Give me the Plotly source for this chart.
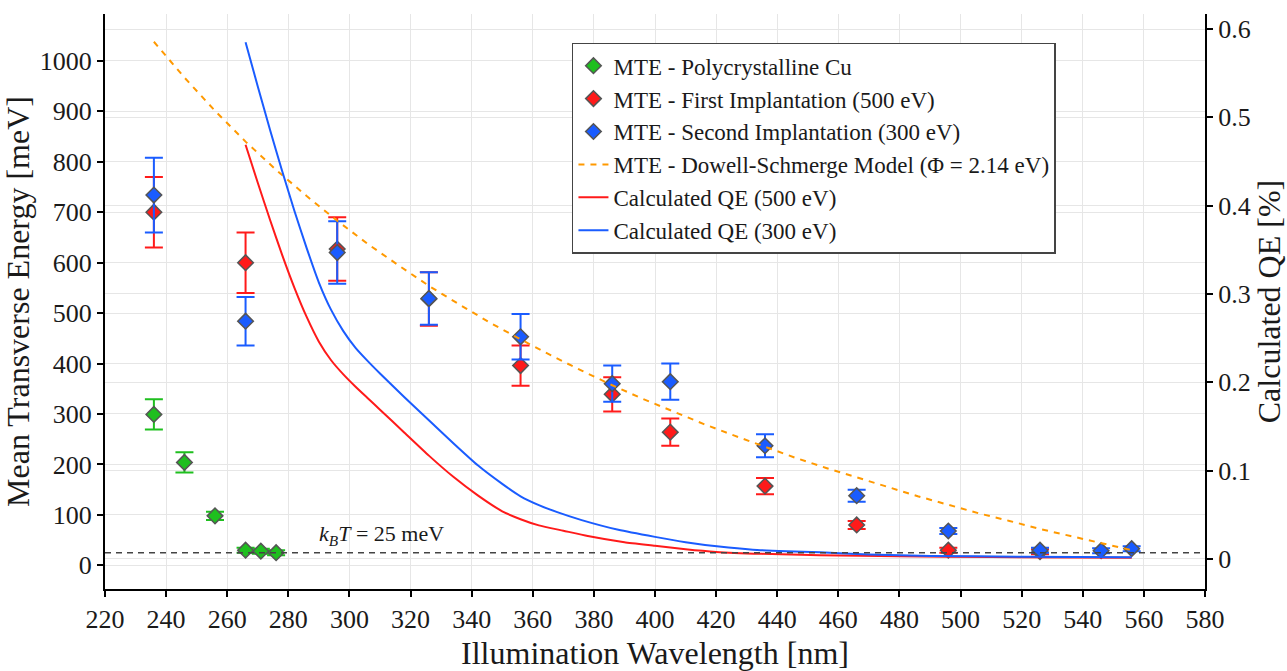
import plotly.graph_objects as go

# ---------------- data ----------------
cu_wl = [236, 246, 256, 266, 271, 276]
cu_mte = [299, 204, 98, 30, 28, 25]
cu_err = [30, 20, 8, 5, 5, 5]

imp1_wl = [236, 266, 296, 326, 356, 386, 405, 436, 466, 496, 526]
imp1_mte = [700, 600, 627, 528, 396, 339, 264, 157, 80, 30, 27]
imp1_err = [70, 60, 63, 53, 40, 34, 27, 16, 8, 5, 5]

imp2_wl = [236, 266, 296, 326, 356, 386, 405, 436, 466, 496, 526, 546, 556]
imp2_mte = [734, 484, 620, 529, 453, 360, 364, 237, 138, 68, 30, 29, 33]
imp2_err = [74, 48, 62, 52, 45, 36, 36, 23, 12, 6, 5, 5, 5]

ds_wl = [236, 246, 256, 266, 276, 286, 296, 306, 316, 326, 336, 346, 356, 366,
         376, 386, 396, 406, 416, 426, 436, 446, 456, 466, 476, 486, 496, 506,
         516, 526, 536, 546, 556]
ds_mte = [1038, 967, 901, 840, 784, 732, 683, 637, 595, 554, 517, 481, 448, 416,
          386, 357, 330, 305, 280, 257, 235, 213, 193, 174, 155, 137, 120, 103,
          88, 72, 58, 44, 30]

qe1_wl = [266, 270, 274, 278, 282, 286, 290, 294, 298, 302, 306, 310, 318,
          326, 334, 342, 350, 356, 362, 370, 378, 390, 400, 410, 420, 435,
          454, 480, 510, 556]
qe1 = [0.469, 0.426, 0.384, 0.344, 0.307, 0.274, 0.246, 0.225, 0.209, 0.195,
       0.182, 0.169, 0.143, 0.117, 0.093, 0.072, 0.054, 0.045, 0.038, 0.032,
       0.026, 0.019, 0.015, 0.011, 0.008, 0.0058, 0.0042, 0.003, 0.0022,
       0.0015]

qe2_wl = [266, 270, 274, 278, 282, 286, 290, 294, 298, 302, 306, 310, 318,
          326, 334, 342, 350, 356, 362, 368, 376, 388, 400, 410, 421, 432,
          443, 454, 470, 490, 520, 556]
qe2 = [0.585, 0.535, 0.486, 0.439, 0.394, 0.352, 0.313, 0.282, 0.258, 0.239,
       0.224, 0.210, 0.183, 0.157, 0.131, 0.106, 0.085, 0.071, 0.061, 0.053,
       0.044, 0.033, 0.025, 0.019, 0.014, 0.0105, 0.0088, 0.0075, 0.005,
       0.0035, 0.0025, 0.002]

kbt = 25

x_ticks = list(range(220, 581, 20))
y_ticks = list(range(0, 1001, 100))
y2_ticks = [0, 0.1, 0.2, 0.3, 0.4, 0.5, 0.6]
y2_labels = ["0", "0.1", "0.2", "0.3", "0.4", "0.5", "0.6"]

# ---------------- styles ----------------
FONT = "Liberation Serif"
TXT = "#1a1a1a"
GREEN = "#1fbf1f"
RED = "#ff1a1a"
BLUE = "#1a5cff"
ORANGE = "#ff9900"
EDGE = "#555555"

def marker_trace(x, y, e, color, name, grp):
    return go.Scatter(
        x=x, y=y, mode="markers", name=name, legendgroup=grp,
        marker=dict(symbol="diamond", size=12, color=color,
                    line=dict(color=EDGE, width=1.5)),
        error_y=dict(type="data", array=e, visible=True, color=color,
                     thickness=2, width=9),
    )

fig = go.Figure()
fig.add_trace(marker_trace(cu_wl, cu_mte, cu_err, GREEN,
                           "MTE - Polycrystalline Cu", "a"))
fig.add_trace(marker_trace(imp1_wl, imp1_mte, imp1_err, RED,
                           "MTE - First Implantation (500 eV)", "b"))
fig.add_trace(marker_trace(imp2_wl, imp2_mte, imp2_err, BLUE,
                           "MTE - Second Implantation (300 eV)", "c"))
fig.add_trace(go.Scatter(
    x=ds_wl, y=ds_mte, mode="lines", legendgroup="d",
    name="MTE - Dowell-Schmerge Model (Φ = 2.14 eV)",
    line=dict(color=ORANGE, width=2, dash="6px,6px"),
))
fig.add_trace(go.Scatter(
    x=qe1_wl, y=qe1, mode="lines", yaxis="y2", legendgroup="e",
    name="Calculated QE (500 eV)",
    line=dict(color=RED, width=2, shape="spline", smoothing=0.5),
))
fig.add_trace(go.Scatter(
    x=qe2_wl, y=qe2, mode="lines", yaxis="y2", legendgroup="f",
    name="Calculated QE (300 eV)",
    line=dict(color=BLUE, width=2, shape="spline", smoothing=0.5),
))

fig.add_shape(type="line", xref="paper", x0=0, x1=1, yref="y", y0=kbt, y1=kbt,
              line=dict(color="#444444", width=1.5, dash="6px,5px"))

fig.add_annotation(x=310.5, y=60, xref="x", yref="y",
                   text="<i>k<sub>B</sub>T</i> = 25 meV",
                   showarrow=False, font=dict(family=FONT, size=22, color=TXT))

axis_common = dict(
    showline=True, linecolor="black", linewidth=2, automargin=False,
    ticks="outside", ticklen=6, tickcolor="black", tickwidth=1.5,
    showgrid=True, gridcolor="#e6e6e6", gridwidth=1, zeroline=False,
    tickfont=dict(family=FONT, size=26, color=TXT),
)
title_font = dict(family=FONT, size=32, color=TXT)

fig.update_layout(
    width=1287, height=671,
    margin=dict(l=105, r=82, t=14, b=82, autoexpand=False),
    paper_bgcolor="white", plot_bgcolor="white",
    font=dict(family=FONT, color=TXT),
    showlegend=True,
    legend=dict(x=0.4245, y=0.95, xanchor="left", yanchor="top",
                bgcolor="white", bordercolor="#444444", borderwidth=1.5,
                font=dict(family=FONT, size=23, color=TXT),
                tracegroupgap=0, traceorder="normal"),
    xaxis=dict(range=[220, 580], tickvals=x_ticks,
               title=dict(text="Illumination Wavelength [nm]", font=title_font,
                          standoff=8),
               **axis_common),
    yaxis=dict(range=[-47, 1093], tickvals=y_ticks,
               title=dict(text="Mean Transverse Energy [meV]", font=title_font,
                          standoff=8),
               **axis_common),
    yaxis2=dict(range=[-0.034, 0.617], tickvals=y2_ticks, ticktext=y2_labels,
                overlaying="y", side="right",
                title=dict(text="Calculated QE [%]", font=title_font,
                           standoff=8),
                **axis_common),
)

fig.write_html(
    "out.html",
    config={"displayModeBar": False},
    post_script="document.body.style.margin='0';document.body.style.overflow='hidden';",
)
